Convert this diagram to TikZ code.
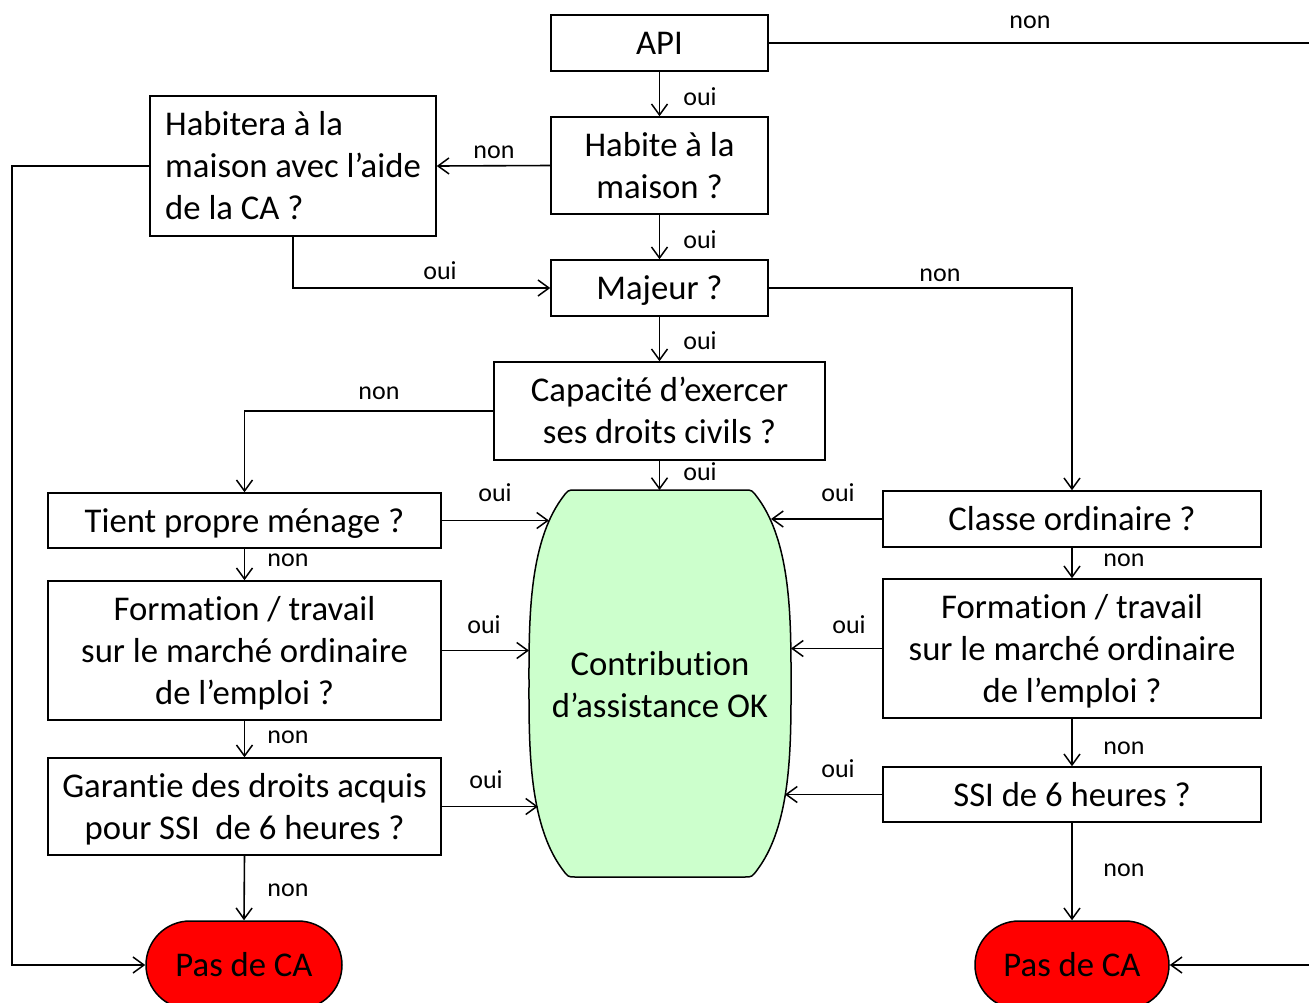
\documentclass[tikz,border=0pt]{standalone}
\usepackage{fontspec}
\setmainfont{Carlito}[Ligatures={NoCommon}]
\usetikzlibrary{arrows.meta}
\definecolor{okgreen}{HTML}{CCFFCC}
\definecolor{nored}{HTML}{FF0000}
\newcommand\zs{\rule[-9pt]{0pt}{41pt}}
\begin{document}
\begin{tikzpicture}[x=1pt,y=-1pt,
  box/.style={draw, line width=1.5pt, inner sep=0pt, align=center, font=\fontsize{34.7}{42}\selectfont},
  lbl/.style={inner sep=0pt, font=\fontsize{26}{30}\selectfont},
  ln/.style={line width=1.6pt},
  arr/.style={line width=1.6pt, -{Straight Barb[length=11pt,width=16pt,line width=1.5pt]}},
  term/.style={box, fill=nored, rounded corners=44pt, minimum width=196pt, minimum height=88pt}]
\useasboundingbox (0,0) rectangle (1309,1002);
\clip (0,0) rectangle (1309,1002);

% central barrel
\draw[line width=1.5pt, fill=okgreen]
  (575,490) -- (745,490) .. controls (752,490) .. (758.2,498.5)
  -- plot[domain=-185:185, samples=80] ({660+131*(1-abs(\x/222)^3)^(1/3)},{683.5+\x})
  .. controls (752,877) .. (745,877) -- (575,877) .. controls (568,877) .. (561.8,868.5)
  -- plot[domain=185:-185, samples=80] ({660-131*(1-abs(\x/222)^3)^(1/3)},{683.5+\x})
  .. controls (568,490) .. (575,490) -- cycle;
\node[inner sep=0pt, align=center, font=\fontsize{34.7}{42}\selectfont] (ok) at (660,685) {\zs Contribution\\\zs d’assistance OK};
\coordinate (okT) at (659.5,490);
\coordinate (okL1) at (549,520.5);
\coordinate (okL2) at (529,650.5);
\coordinate (okL3) at (538,806.5);
\coordinate (okR1) at (771,519);
\coordinate (okR2) at (791,648.5);
\coordinate (okR3) at (785,794.5);

% boxes
\node[box, minimum width=217pt, minimum height=56pt] (api) at (659.5,43) {\zs API};
\node[box, minimum width=217pt, minimum height=97pt] (habite) at (659.5,165.5) {\zs Habite à la\\\zs maison ?};
\node[box, minimum width=286pt, minimum height=140pt, align=left] (habitera) at (293,166) {\zs Habitera à la\\\zs maison avec l’aide\\\zs de la CA ?};
\node[box, minimum width=217pt, minimum height=56pt] (majeur) at (659.5,288) {\zs Majeur ?};
\node[box, minimum width=331pt, minimum height=98pt] (capa) at (659.5,411) {\zs Capacité d’exercer\\\zs ses droits civils ?};
\node[box, minimum width=393pt, minimum height=55pt] (tient) at (244.5,520.5) {\zs Tient propre ménage ?};
\node[box, minimum width=393pt, minimum height=139pt] (forml) at (244.5,650.5) {\zs Formation / travail\\\zs sur le marché ordinaire\\\zs de l’emploi ?};
\node[box, minimum width=393pt, minimum height=97pt] (garantie) at (244.5,806.5) {\zs Garantie des droits acquis\\\zs pour SSI\ \ de 6 heures ?};
\node[box, minimum width=378pt, minimum height=56pt] (classe) at (1072,519) {\zs Classe ordinaire ?};
\node[box, minimum width=378pt, minimum height=139pt] (formr) at (1072,648.5) {\zs Formation / travail\\\zs sur le marché ordinaire\\\zs de l’emploi ?};
\node[box, minimum width=378pt, minimum height=55pt] (ssi) at (1072,794.5) {\zs SSI de 6 heures ?};
\node[term] (pasl) at (244,965) {\zs Pas de CA};
\node[term, minimum width=194pt] (pasr) at (1072,965) {\zs Pas de CA};

\coordinate (edgeT) at (1309,43);
\coordinate (edgeB) at (1309,965);

% connectors
\draw[ln] (api.east) -- (edgeT) node[lbl] at (1030,22) {non};
\draw[arr] (api.south) -- (habite.north) node[lbl] at (700,97) {oui};
\draw[arr] (habite.west) -- (habitera.east) node[lbl] at (494,152) {non};
\draw[arr] (habite.south) -- (majeur.north) node[lbl] at (700,240) {oui};
\draw[arr] (habitera.west) -- ++(-137,0) |- (pasl.west);
\draw[arr] (habitera.south) |- (majeur.west) node[lbl] at (440,271) {oui};
\draw[arr] (majeur.east) -| (classe.north) node[lbl] at (940,275) {non};
\draw[arr] (majeur.south) -- (capa.north) node[lbl] at (700,341) {oui};
\draw[arr] (capa.west) -| (tient.north) node[lbl] at (379,393) {non};
\draw[arr] (capa.south) -- (okT) node[lbl] at (700,472) {oui};
\draw[arr] (tient.east) -- (okL1) node[lbl] at (495,493) {oui};
\draw[arr] (tient.south) -- (forml.north) node[lbl] at (288,560) {non};
\draw[arr] (forml.east) -- (okL2) node[lbl] at (484,625) {oui};
\draw[arr] (forml.south) -- (garantie.north) node[lbl] at (288,737) {non};
\draw[arr] (garantie.east) -- (okL3) node[lbl] at (486,780) {oui};
\draw[arr] (garantie.south) -- (pasl.north) node[lbl] at (288,890) {non};
\draw[arr] (classe.west) -- (okR1) node[lbl] at (838,493) {oui};
\draw[arr] (classe.south) -- (formr.north) node[lbl] at (1124,560) {non};
\draw[arr] (formr.west) -- (okR2) node[lbl] at (849,625) {oui};
\draw[arr] (formr.south) -- (ssi.north) node[lbl] at (1124,748) {non};
\draw[arr] (ssi.west) -- (okR3) node[lbl] at (838,769) {oui};
\draw[arr] (ssi.south) -- (pasr.north) node[lbl] at (1124,870) {non};
\draw[arr] (edgeB) -- (pasr.east);
\end{tikzpicture}
\end{document}
